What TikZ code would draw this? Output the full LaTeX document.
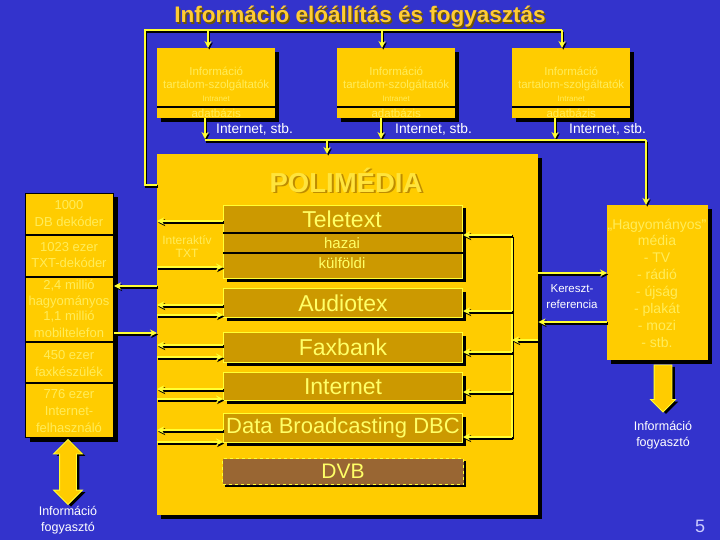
\documentclass[tikz,border=0pt]{standalone}
\usepackage{fontspec}
\setmainfont{Liberation Sans}
\usetikzlibrary{calc, positioning, shadows, shapes.arrows, arrows.meta}

\definecolor{bgblue}{RGB}{51,51,204}
\definecolor{boxgold}{RGB}{255,204,0}
\definecolor{innergold}{RGB}{204,153,0}
\definecolor{dvbbrown}{RGB}{153,102,51}
\definecolor{wireyel}{RGB}{255,255,51}
\definecolor{softtext}{RGB}{255,236,90}
\definecolor{brighttext}{RGB}{255,255,102}
\definecolor{titlegold}{RGB}{255,204,51}
\definecolor{titleshade}{RGB}{110,85,0}
\definecolor{politext}{RGB}{255,228,60}
\definecolor{polishade}{RGB}{190,140,0}
\definecolor{pagenum}{RGB}{204,204,255}

\begin{document}
\begin{tikzpicture}[x=1pt, y=-1pt,
		box/.style = {fill=boxgold, inner sep=0pt, anchor=north west,
			drop shadow={shadow xshift=4pt, shadow yshift=-4pt, opacity=1, fill=black}},
		service/.style = {fill=innergold, draw=wireyel, line width=1pt, inner sep=0pt, anchor=north west,
			drop shadow={shadow xshift=3pt, shadow yshift=-3pt, opacity=1, fill=black}},
		wire/.style = {draw=wireyel, line width=2.4pt,
			preaction={draw=black, line width=2.4pt, transform canvas={xshift=1.2pt, yshift=-1.6pt}}},
		arrowtip/.style = {-{Stealth[length=7pt, width=7pt]}},
		soft/.style = {text=softtext, inner sep=0pt, font=\fontsize{13}{15}\selectfont},
		plain/.style = {text=white, inner sep=0pt, font=\fontsize{12.5}{16}\selectfont},
		bright/.style = {text=brighttext, inner sep=0pt},
		blockarrow/.style = {fill=boxgold, draw=wireyel, line width=0.8pt,
			drop shadow={shadow xshift=3pt, shadow yshift=-2pt, opacity=1, fill=black}}
	]
	\useasboundingbox (0,0) rectangle (720,540);
	\fill[bgblue] (0,0) rectangle (720,540);
	
	% title
	\node[text=titleshade, font=\bfseries\fontsize{22.5}{22.5}\selectfont] (titleshadow) at (361.5,18.5) {Információ előállítás és fogyasztás};
	\node[text=titlegold, font=\bfseries\fontsize{22.5}{22.5}\selectfont] (title) at (360,17) {Információ előállítás és fogyasztás};
	
	% main box
	\node[box, minimum width=381pt, minimum height=361pt] (main) at (157,154) {};
	\node[text=polishade, font=\bfseries\fontsize{27.5}{27.5}\selectfont] (polishadow) at (348,181.5) {POLIMÉDIA};
	\node[text=politext, font=\bfseries\fontsize{27.5}{27.5}\selectfont] (poli) at (346,180) {POLIMÉDIA};
	
	% content providers
	\foreach \n/\x in {1/157, 2/337, 3/512}{
		\node[box, minimum width=118pt, minimum height=70pt] (src\n) at (\x,48) {};
		\draw[black, line width=1.2pt] (src\n.west |- 0,107) -- (src\n.east |- 0,107);
		\node[soft, font=\fontsize{11.5}{11.5}\selectfont] (srcinfo\n) at ($(src\n.north)+(0,23)$) {Információ};
		\node[soft, font=\fontsize{11.5}{11.5}\selectfont] (srcname\n) at ($(src\n.north)+(0,37)$) {tartalom-szolgáltatók};
		\node[soft, font=\fontsize{8}{8}\selectfont] (srcnet\n) at ($(src\n.north)+(0,51)$) {Intranet};
		\node[soft, font=\fontsize{11.5}{11.5}\selectfont] (srcdb\n) at ($(src\n.north)+(0,65)$) {adatbázis};
	}
	
	% users column
	\node[box, draw=black, line width=1pt, minimum width=88pt, minimum height=244pt] (users) at (25,193) {};
	\foreach \y in {235,277,342,383}
		\draw[black, line width=1.4pt] (users.west |- 0,\y) -- (users.east |- 0,\y);
	\foreach \y/\t in {205/1000, 222/DB dekóder, 247/1023 ezer, 263/TXT-dekóder, 286/{2,4 millió},
			302/hagyományos, 317/{1,1 millió}, 333/mobiltelefon, 355/450 ezer, 372/faxkészülék,
			394/776 ezer, 411/Internet-, 428/felhasználó}
		\node[soft] (user\y) at (69,\y) {\t};
	
	% services
	\node[service, minimum width=239pt, minimum height=73pt] (tele) at (223,205) {};
	\draw[black, line width=1.4pt] (tele.west |- 0,233) -- (tele.east |- 0,233);
	\draw[black, line width=1.4pt] (tele.west |- 0,253) -- (tele.east |- 0,253);
	\node[bright, font=\fontsize{23}{23}\selectfont] (teletitle) at (342,219) {Teletext};
	\node[bright, font=\fontsize{15}{15}\selectfont] (telehome) at (342,243) {hazai};
	\node[bright, font=\fontsize{15}{15}\selectfont] (teleabroad) at (342,263) {külföldi};
	\foreach \nm/\top/\h/\fs/\lbl in {audio/288/29/23/Audiotex, fax/332/30/23/Faxbank, inet/372/28/23/Internet,
			dbc/413/29/22/Data Broadcasting DBC}
		\node[service, minimum width=239pt, minimum height={\h*1pt}, text=brighttext,
			font=\fontsize{\fs}{\fs}\selectfont] (\nm) at (223,\top) {\lbl};
	\node[fill=dvbbrown, draw=wireyel, dashed, line width=1pt, inner sep=0pt, anchor=north west,
		minimum width=241pt, minimum height=26pt, text=brighttext, font=\fontsize{21}{21}\selectfont,
		drop shadow={shadow xshift=2pt, shadow yshift=-2pt, opacity=1, fill=black}] (dvb) at (222,458) {DVB};
	\node[soft, font=\fontsize{12}{12}\selectfont] (itxt1) at (187,240) {Interaktív};
	\node[soft, font=\fontsize{12}{12}\selectfont] (itxt2) at (187,253) {TXT};
	
	% traditional media
	\node[box, minimum width=101pt, minimum height=155pt] (trad) at (607,205) {};
	\node[soft, align=center, font=\fontsize{14}{16.85}\selectfont] (tradtext) at (657,283)
		{„Hagyományos”\\média\\- TV\\- rádió\\- újság\\- plakát\\- mozi\\- stb.};
	\node[plain, align=center, font=\fontsize{11.5}{16}\selectfont] (crossref) at (572,297) {Kereszt-\\referencia};
	
	% top bus
	\coordinate (busleft) at (145,30);
	\foreach \n/\ax in {1/208, 2/382, 3/562}{
		\coordinate (bus\n) at (\ax,30);
	}
	\draw[wire] (main.west |- 0,185) -- (busleft |- 0,185) -- (busleft) -- (bus3);
	\foreach \n in {1,2,3}
		\draw[wire, arrowtip] (bus\n) -- (bus\n |- src\n.north);
	
	% feed from providers
	\foreach \n/\bx/\lx in {1/205/216, 2/381/395, 3/555/569}{
		\coordinate (feed\n) at (\bx,140);
		\draw[wire, arrowtip] (src\n.south -| feed\n) -- ([yshift=1pt]feed\n);
		\node[plain, anchor=west, font=\fontsize{13.8}{13.8}\selectfont] (net\n) at (\lx,129) {Internet, stb.};
	}
	\coordinate (feedmid) at (327,140);
	\coordinate (feedright) at (646,140);
	\draw[wire] (feed1) -- (feedright);
	\draw[wire, arrowtip] (feedright) -- (feedright |- trad.north);
	\draw[wire, arrowtip] (feedmid) -- (feedmid |- main.north);
	
	% users <-> polimedia
	\draw[wire, arrowtip] (main.west |- 0,286) -- (users.east |- 0,286);
	\draw[wire, arrowtip] (users.east |- 0,333) -- (main.west |- 0,333);
	
	% services <-> polimedia edge
	\foreach \nm/\ya/\yb in {tele/221/267, audio/305/315, fax/345/357, inet/389/399, dbc/430/442}{
		\draw[wire, arrowtip] (\nm.west |- 0,\ya) -- (main.west |- 0,\ya);
		\draw[wire, arrowtip] (main.west |- 0,\yb) -- (\nm.west |- 0,\yb);
	}
	
	% cross reference rail
	\coordinate (railtop) at (512,235);
	\coordinate (railbottom) at (512,437);
	\draw[wire] (railtop) -- (railbottom);
	\foreach \nm/\y in {tele/235, audio/311, fax/352, inet/392, dbc/437}
		\draw[wire, arrowtip] (railtop |- 0,\y) -- (\nm.east |- 0,\y);
	\draw[wire, arrowtip] (main.east |- 0,340) -- (railtop |- 0,340);
	\draw[wire, arrowtip] (main.east |- 0,273) -- (trad.west |- 0,273);
	\draw[wire, arrowtip] (trad.west |- 0,322) -- (main.east |- 0,322);
	
	% consumers
	\node[blockarrow, single arrow, shape border rotate=270, inner sep=8.5pt, minimum height=47pt,
		single arrow head extend=3.5pt] (tradout) at (663,384) {};
	\node[plain, align=center] (consumer2) at (663,435) {Információ\\fogyasztó};
	\node[blockarrow, double arrow, shape border rotate=90, inner sep=8pt, minimum height=65pt,
		double arrow head extend=6pt] (userlink) at (68,472) {};
	\node[plain, align=center] (consumer1) at (68,520) {Információ\\fogyasztó};
	
	\node[text=pagenum, inner sep=0pt, font=\fontsize{18}{18}\selectfont] (page) at (700,526) {5};
\end{tikzpicture}
\end{document}
